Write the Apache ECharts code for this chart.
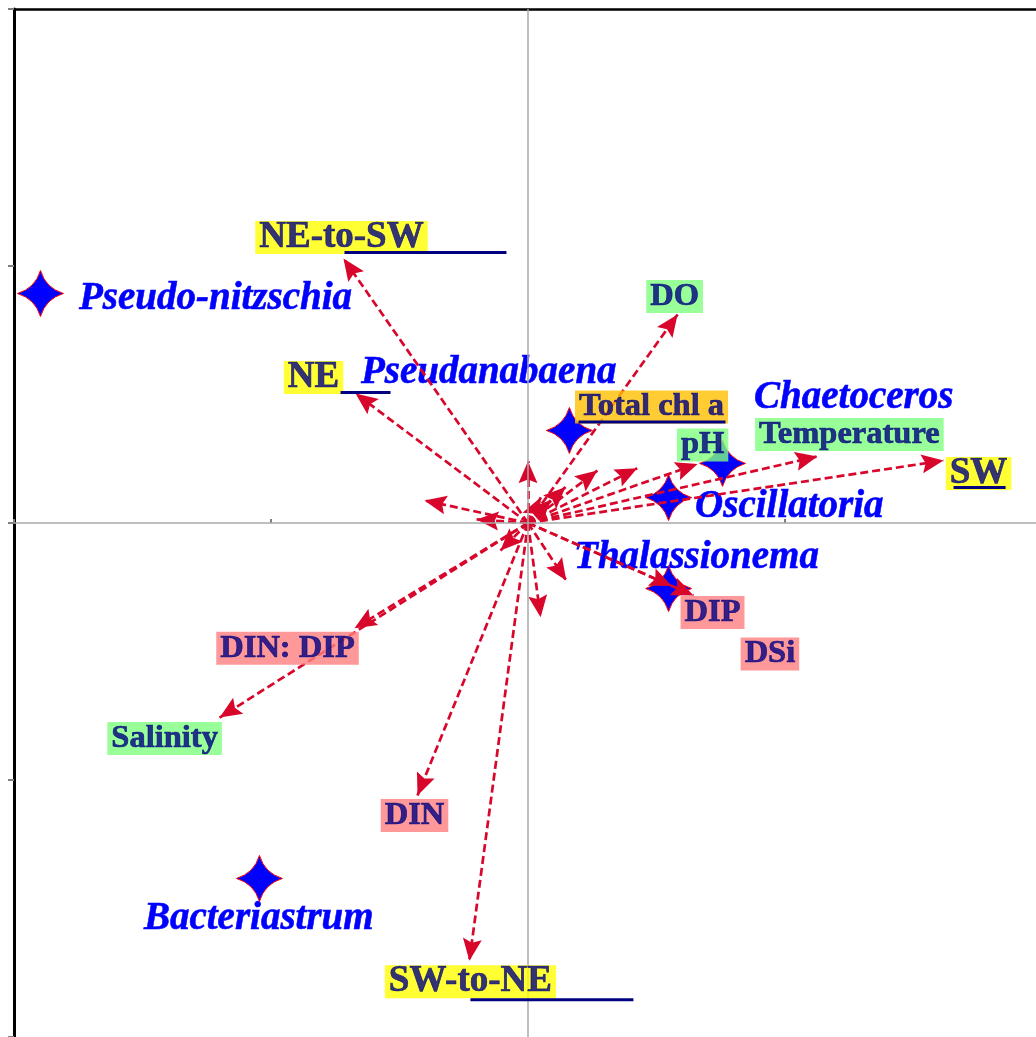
<!DOCTYPE html>
<html>
<head>
<meta charset="utf-8">
<script src="https://cdn.jsdelivr.net/npm/echarts@6/dist/echarts.min.js"></script>
<style>
  html, body { margin: 0; padding: 0; background: #fff; }
  #chart { width: 1036px; height: 1037px; }
</style>
</head>
<body>
<div id="chart"></div>
<script>
// Axis ticks (CCA axes 1 and 2)
const axisTicks = [-2, -1, 0, 1, 2];

// Environmental / seasonal vectors (arrow tips)
const envNames = ['NE-to-SW', 'NE', 'DO', 'Total chl a', 'pH', 'Temperature', 'SW',
                  'DIP', 'DSi', 'DIN: DIP', 'Salinity', 'DIN', 'SW-to-NE'];
const envX = [-0.718, -0.671, 0.582, 0.146, 0.660, 1.126, 1.617, 0.644, 0.560, -0.675, -1.200, -0.430, -0.228];
const envY = [ 1.029,  0.504, 0.811, 0.140, 0.230, 0.259, 0.243, -0.282, -0.245, -0.410, -0.757, -1.060, -1.703];
const envGroup = ['season', 'season', 'physical', 'biomass', 'physical', 'physical', 'season',
                  'nutrient', 'nutrient', 'nutrient', 'physical', 'nutrient', 'season'];

// Further vectors drawn without a label
const minorX = [0.000, -0.403, -0.200, -0.107, 0.049, 0.149, 0.050, 0.270, 0.425, 0.090];
const minorY = [0.240,  0.088,  0.014, -0.107, -0.367, -0.224, 0.100, 0.204, 0.213, 0.090];

// Species scores
const speciesNames = ['Pseudo-nitzschia', 'Pseudanabaena', 'Chaetoceros', 'Oscillatoria', 'Thalassionema', 'Bacteriastrum'];
const speciesX = [-1.897, 0.161, 0.757, 0.547, 0.547, -1.045];
const speciesY = [ 0.893, 0.360, 0.232, 0.099, -0.255, -1.383];

// ---- layout & styling ----
const groupBg = { season: '#FFFF00', physical: '#80FF80', nutrient: '#FF8080', biomass: '#FFC000' };
const groupFont = { season: 37, physical: 32.5, nutrient: 32.5, biomass: 32.5 };
// label box centre, pixel offset from the arrow tip
const envLabelOffset = [[-2, -21], [-42, -16], [-3, -18], [86, -80], [5, -19], [32, -22], [35, 13],
                        [19, 17], [98, 68], [-67, 20], [-55, 21], [-3, 20], [1, 21]];
// underline strokes, pixel offsets from the arrow tip: [x0, x1, y]
const underlines = { 'NE-to-SW': [1, 163, -6], 'NE': [-15, 35, -1], 'SW-to-NE': [1, 164, 39],
                     'Total chl a': [13, 160, -65], 'SW': [10, 62, 27] };
// species label: left edge / vertical centre, pixel offset from the star centre
const speciesLabelOffset = [[38, 5], [-209, -58], [31, -65], [26, 9], [-95, -31], [-116, 40]];

const STAR = 'path://M0,-10 Q2.3,-2.3 10,0 Q2.3,2.3 0,10 Q-2.3,2.3 -10,0 Q-2.3,-2.3 0,-10 Z';
// arrow head whose point sits at the centre of its symbol box
const HEAD = 'path://M0,-20 L0,-20 M0,0 L9,20 L0,16.5 L-9,20 Z';
const RED = '#D9062C';
const NAVY = '#000080';
const SERIF = '"Liberation Serif", "Times New Roman", serif';
const STAR_SIZE = 46;

const vectorData = envX.map((x, i) => ({ coords: [[0, 0], [x, envY[i]]] }))
  .concat(minorX.map((x, i) => ({ coords: [[0, 0], [x, minorY[i]]] })));

const envLabelData = envNames.map((name, i) => ({
  name: name,
  value: [envX[i], envY[i]],
  label: {
    backgroundColor: groupBg[envGroup[i]],
    fontSize: groupFont[envGroup[i]],
    offset: envLabelOffset[i]
  }
}));

const speciesData = speciesNames.map((name, i) => ({
  name: name,
  value: [speciesX[i], speciesY[i]],
  label: { offset: [speciesLabelOffset[i][0] - STAR_SIZE / 2, speciesLabelOffset[i][1]] }
}));

const chart = echarts.init(document.getElementById('chart'), null, { renderer: 'canvas' });

const option = {
  animation: false,
  backgroundColor: '#ffffff',
  grid: { left: 14, top: 9, width: 1028, height: 1028, containLabel: false, outerBoundsMode: 'none' },
  xAxis: [
    {
      type: 'value', min: -2, max: 2, interval: 1, position: 'bottom',
      axisLine: { show: false },
      axisTick: { show: true, inside: true, length: 4, lineStyle: { color: '#808080', width: 2 } },
      axisLabel: { show: false }, splitLine: { show: false }
    },
    {
      type: 'value', min: -2, max: 2, interval: 1, position: 'top',
      axisLine: { show: true, onZero: false, lineStyle: { color: '#000', width: 2.5 } },
      axisTick: { show: false }, axisLabel: { show: false }, splitLine: { show: false }
    }
  ],
  yAxis: {
    type: 'value', min: -2, max: 2, interval: 1,
    axisLine: { show: true, onZero: false, lineStyle: { color: '#000', width: 3 } },
    axisTick: { show: true, length: 6, lineStyle: { color: '#808080', width: 2 } },
    axisLabel: { show: false }, splitLine: { show: false }
  },
  series: [
    {
      // origin cross-hair
      type: 'scatter', data: [], silent: true,
      markLine: {
        silent: true, symbol: 'none', label: { show: false },
        lineStyle: { color: '#A8A8A8', width: 1.5, type: 'solid' },
        data: [{ xAxis: 0 }, { yAxis: 0 }]
      },
      z: 1
    },
    {
      type: 'scatter', name: 'species', data: speciesData,
      symbol: STAR, symbolSize: STAR_SIZE,
      itemStyle: { color: '#0000FF', borderColor: '#FF0000', borderWidth: 1, opacity: 1 },
      label: {
        show: true, position: 'right', distance: 0,
        formatter: p => p.name,
        color: '#0000FF', fontFamily: SERIF, fontStyle: 'italic', fontWeight: 'bold', fontSize: 39,
        textBorderColor: '#0000FF', textBorderWidth: 0.6
      },
      z: 3
    },
    {
      type: 'lines', coordinateSystem: 'cartesian2d', data: vectorData,
      symbol: ['none', HEAD], symbolSize: [1, [19, 44]],
      lineStyle: { color: RED, width: 2.7, type: [8, 4], opacity: 1 },
      z: 4
    },
    {
      type: 'scatter', name: 'env', data: envLabelData,
      symbolSize: 1, itemStyle: { color: 'rgba(0,0,0,0)' },
      label: {
        show: true, position: 'inside',
        formatter: p => p.name,
        color: NAVY, fontFamily: SERIF, fontWeight: 'bold',
        textBorderColor: NAVY, textBorderWidth: 0.7,
        padding: [2, 4, 0, 4], lineHeight: 31
      },
      z: 5
    }
  ]
};

chart.setOption(option);

// underline strokes beside some of the labels
const segs = [];
envNames.forEach((name, i) => {
  const u = underlines[name];
  if (!u) return;
  const tip = chart.convertToPixel({ gridIndex: 0 }, [envX[i], envY[i]]);
  segs.push({
    type: 'line', z: 100,
    shape: { x1: tip[0] + u[0], y1: tip[1] + u[2], x2: tip[0] + u[1], y2: tip[1] + u[2] },
    style: { stroke: NAVY, lineWidth: 3 }
  });
});
chart.setOption({ graphic: segs });
</script>
</body>
</html>
